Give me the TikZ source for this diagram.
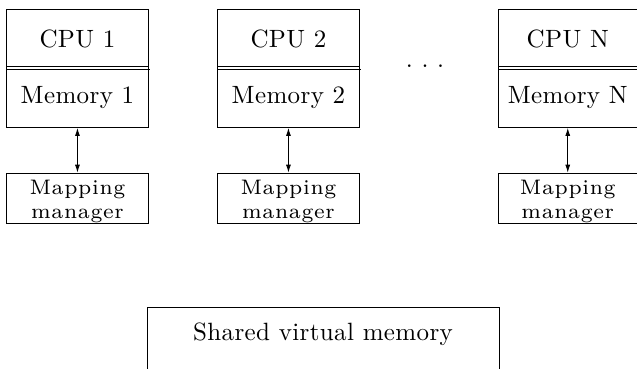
\documentclass[tikz,border=0pt]{standalone}
\usepackage{fontspec}
\usetikzlibrary{arrows.meta}
\newfontfamily\diagbigfont{lmroman10-regular.otf}[LetterSpace=1.5]
\newfontfamily\diagmapfont{lmroman7-regular.otf}[LetterSpace=3]
\newcommand\maplabel{\rule{0pt}{21.4pt}Mapping\\manager}
\tikzset{
  frame/.style={line width=0.9pt},
  unit/.style={draw, frame, inner sep=0pt, anchor=north west, minimum width=142pt,
    font=\diagbigfont\fontsize{25}{30}\selectfont},
  cpubox/.style={unit, minimum height=57.3pt, text height=18.7pt, text depth=0pt},
  membox/.style={unit, minimum height=61pt, text height=17.6pt, text depth=4pt},
  mapbox/.style={draw, frame, inner sep=0pt, anchor=north west, minimum width=142pt,
    minimum height=50pt, align=center,
    font=\diagmapfont\fontsize{21}{24}\selectfont},
  bigtext/.style={font=\diagbigfont\fontsize{25}{30}\selectfont},
  link/.style={frame, {Latex[length=8pt,width=5pt]}-{Latex[length=8pt,width=5pt]}},
}
\begin{document}
\begin{tikzpicture}[x=1pt,y=-1pt]
\useasboundingbox (0,0) rectangle (637,369);
% column 1
\node[cpubox] (cpu1) at (6,8.7) {CPU 1};
\node[membox] (mem1) at (6,66) {Memory 1};
\draw[frame] ([yshift=-3pt]mem1.north west) -- ([yshift=-3pt,xshift=1pt]mem1.north east);
\node[mapbox] (map1) at (6,172.7) {\maplabel};
\draw[link] (mem1.south) -- (map1.north);
% column 2
\node[cpubox] (cpu2) at (217,8.7) {CPU 2};
\node[membox] (mem2) at (217,66) {Memory 2};
\draw[frame] ([yshift=-3pt]mem2.north west) -- ([yshift=-3pt,xshift=1pt]mem2.north east);
\node[mapbox] (map2) at (217,172.7) {\maplabel};
\draw[link] (mem2.south) -- (map2.north);
% dots
\node[bigtext, anchor=base, inner sep=0pt] (dots) at (425,67.3) {.\ .\ .};
% column N
\node[cpubox, minimum width=138.6pt] (cpuN) at (498,8.7) {CPU N};
\node[membox, minimum width=138.6pt] (memN) at (498,66) {Memory N};
\draw[frame] ([yshift=-3pt]memN.north west) -- ([yshift=-3pt]memN.north east);
\node[mapbox, minimum width=138.6pt] (mapN) at (498,172.7) {\maplabel};
\draw[link] (memN.south) -- (mapN.north);
% shared virtual memory
\node[bigtext, anchor=base, inner sep=0pt] (shared) at (323,340) {Shared virtual memory};
\coordinate (sbl) at (147,369.5);
\coordinate (sbr) at (499,369.5);
\draw[frame] (sbl) -- ++(0,-62.5) -| (sbr);
\end{tikzpicture}
\end{document}
